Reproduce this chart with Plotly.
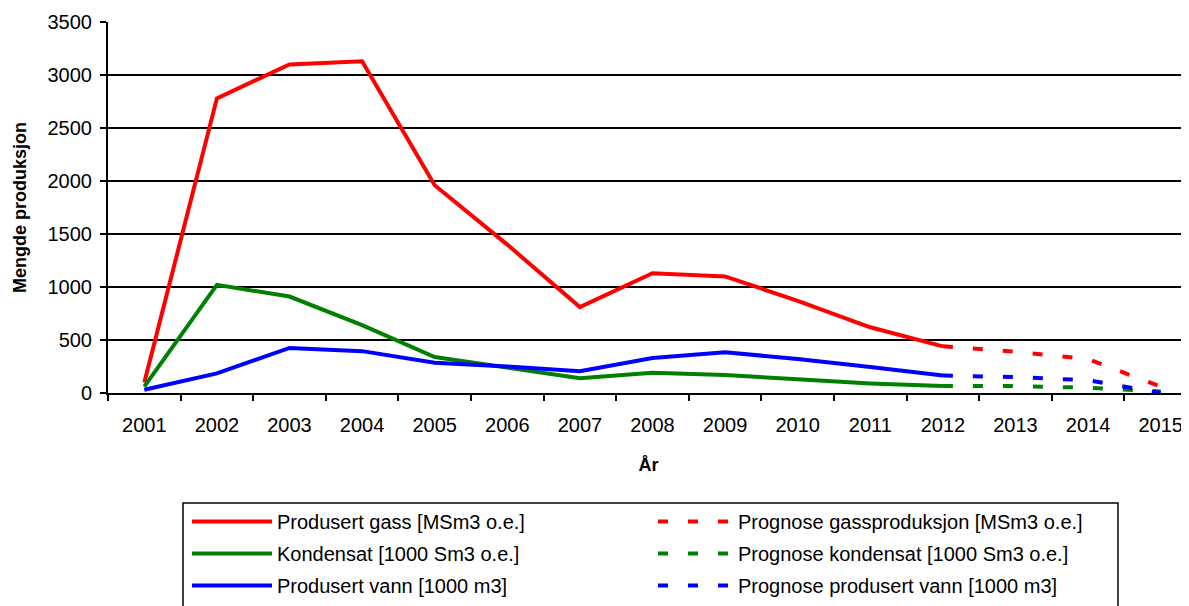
import plotly.graph_objects as go

years = ["2001", "2002", "2003", "2004", "2005", "2006", "2007", "2008",
         "2009", "2010", "2011", "2012", "2013", "2014", "2015"]
hist_years = years[:12]
prog_years = years[11:]

gas = [100, 2780, 3100, 3130, 1960, 1400, 810, 1130, 1100, 870, 620, 440]
kond = [60, 1020, 910, 640, 340, 240, 140, 190, 170, 130, 90, 65]
vann = [30, 185, 425, 395, 285, 250, 205, 330, 385, 320, 245, 165]

gas_prog = [440, 390, 320, 60]
kond_prog = [65, 65, 50, 15]
vann_prog = [165, 150, 120, 0]

names = ["Produsert gass [MSm3 o.e.]", "Prognose gassproduksjon [MSm3 o.e.]",
         "Kondensat [1000 Sm3 o.e.]", "Prognose kondensat [1000 Sm3 o.e.]",
         "Produsert vann [1000 m3]", "Prognose produsert vann [1000 m3]"]

RED, GREEN, BLUE = "#ff0000", "#008000", "#0000ff"
FONT = "Liberation Sans, Arial, sans-serif"
FS = 20

fig = go.Figure()
series = [
    (hist_years, gas, names[0], RED, "solid", "legend"),
    (hist_years, kond, names[2], GREEN, "solid", "legend"),
    (hist_years, vann, names[4], BLUE, "solid", "legend"),
    (prog_years, gas_prog, names[1], RED, "10px,20px", "legend2"),
    (prog_years, kond_prog, names[3], GREEN, "10px,20px", "legend2"),
    (prog_years, vann_prog, names[5], BLUE, "10px,20px", "legend2"),
]
for x, y, n, c, d, lg in series:
    fig.add_trace(go.Scatter(x=x, y=y, name=n, mode="lines", legend=lg,
                             legendgroup=n,
                             line=dict(color=c, width=4, dash=d)))

# The page body has an 8px margin; work in screenshot pixels and offset.
OFF = 8
W, H = 1189 - OFF, 606 - OFF
PL, PR, PT, PB = 108, 1189, 22, 393   # plot area in screenshot pixels
L, R, T = PL - OFF, 1189 - PR, PT - OFF
B = H - (PB - OFF)
pw, ph = W - L - R, H - T - B


def px_x(p):
    return (p - PL) / pw


def px_y(p):
    return (PB - p) / ph


leg_common = dict(orientation="v", yanchor="top", xanchor="left",
                  bgcolor="rgba(0,0,0,0)", borderwidth=0,
                  font=dict(size=FS), tracegroupgap=3, traceorder="grouped")

fig.update_layout(
    width=W, height=H,
    margin=dict(l=L, r=R, t=T, b=B, autoexpand=False),
    paper_bgcolor="white", plot_bgcolor="white",
    font=dict(family=FONT, size=FS, color="black"),
    xaxis=dict(type="category", categoryorder="array", categoryarray=years,
               range=[-0.5, 14.39], tickson="boundaries", ticks="outside",
               ticklen=6, tickwidth=2, tickcolor="black", automargin=False,
               ticklabelstandoff=13,
               showline=True, linecolor="black", linewidth=2,
               showgrid=False, tickfont=dict(size=FS),
               title=dict(text="<b>År</b>", font=dict(size=18), standoff=23)),
    yaxis=dict(range=[0, 3500], dtick=500, ticks="outside", ticklen=6,
               tickwidth=2, tickcolor="black", showline=True,
               linecolor="black", linewidth=2, showgrid=True,
               gridcolor="black", gridwidth=2, zeroline=False,
               automargin=False, ticklabelstandoff=4,
               tickfont=dict(size=FS),
               title=dict(text="<b>Mengde produksjon</b>", font=dict(size=18),
                          standoff=16)),
    legend=dict(x=px_x(187), y=px_y(502), itemwidth=80, **leg_common),
    legend2=dict(x=px_x(653), y=px_y(502), itemwidth=75, **leg_common),
    showlegend=True,
    shapes=[dict(type="rect", xref="paper", yref="paper",
                 x0=px_x(183), x1=px_x(1118), y0=px_y(612), y1=px_y(503),
                 line=dict(color="black", width=1.5), fillcolor="rgba(0,0,0,0)",
                 layer="below")],
)

fig.write_html("out.html")
